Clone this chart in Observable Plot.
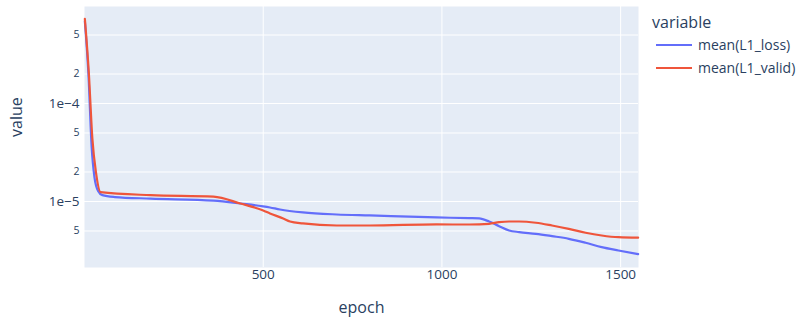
<!DOCTYPE html>
<html>
<head>
<meta charset="utf-8">
<script src="https://cdn.jsdelivr.net/npm/d3@7"></script>
<script src="https://cdn.jsdelivr.net/npm/@observablehq/plot@0.6"></script>
<style>
  html, body { margin: 0; padding: 0; background: #fff; }
  #wrap { position: relative; width: 800px; height: 326px; font-family: "Open Sans", sans-serif; color: #2a3f5f; }
  #legend { position: absolute; left: 652px; top: 11px; }
  #legend .title { font-size: 16px; line-height: 22px; margin-bottom: 0px; }
  #legend .item { display: flex; align-items: center; height: 23px; font-size: 14px; }
  #legend .swatch { width: 36px; height: 2px; margin-left: 4px; margin-right: 6px; }
</style>
</head>
<body>
<div id="wrap"></div>
<script>
// ---- data ----
const seriesNames = ["mean(L1_loss)", "mean(L1_valid)"];
const seriesColors = ["#636efa", "#EF553B"];
const legendTitle = "variable";

const epochsLoss = [1, 11, 20, 28, 38, 50, 85, 185, 361, 436, 519, 547, 611, 706, 798, 985, 1077, 1104, 1132, 1160, 1188, 1216, 1263, 1308, 1355, 1402, 1447, 1494, 1549];
const lossValues = [6.9e-4, 2.0e-4, 3.6e-5, 1.75e-5, 1.28e-5, 1.16e-5, 1.11e-5, 1.07e-5, 1.02e-5, 9.54e-6, 8.69e-6, 8.28e-6, 7.73e-6, 7.37e-6, 7.20e-6, 6.87e-6, 6.76e-6, 6.71e-6, 6.25e-6, 5.60e-6, 5.06e-6, 4.87e-6, 4.68e-6, 4.43e-6, 4.16e-6, 3.79e-6, 3.42e-6, 3.16e-6, 2.90e-6];

const epochsValid = [1, 12, 22, 32, 45, 185, 361, 436, 500, 519, 556, 575, 611, 706, 798, 985, 1077, 1132, 1160, 1188, 1216, 1263, 1308, 1355, 1402, 1447, 1494, 1549];
const validValues = [7.31e-4, 2.08e-4, 4.39e-5, 1.99e-5, 1.245e-5, 1.16e-5, 1.12e-5, 9.54e-6, 8.09e-6, 7.55e-6, 6.71e-6, 6.25e-6, 5.97e-6, 5.69e-6, 5.69e-6, 5.83e-6, 5.82e-6, 5.92e-6, 6.15e-6, 6.25e-6, 6.25e-6, 6.07e-6, 5.69e-6, 5.26e-6, 4.80e-6, 4.50e-6, 4.32e-6, 4.27e-6];

const xTicks = [500, 1000, 1500];
const yMajorTicks = [1e-5, 1e-4];
const yMajorLabels = ["1e−5", "1e−4"];
const yMinorTicks = [5e-6, 2e-5, 5e-5, 2e-4, 5e-4];
const yMinorLabels = ["5", "2", "5", "2", "5"];
const xTitle = "epoch";
const yTitle = "value";

// ---- build table ----
const rows = [];
epochsLoss.forEach((e, i) => rows.push({epoch: e, value: lossValues[i], variable: seriesNames[0]}));
epochsValid.forEach((e, i) => rows.push({epoch: e, value: validValues[i], variable: seriesNames[1]}));

const majorRows = yMajorTicks.map((v, i) => ({v, label: yMajorLabels[i]}));
const minorRows = yMinorTicks.map((v, i) => ({v, label: yMinorLabels[i]}));

const chart = Plot.plot({
  width: 800,
  height: 326,
  marginLeft: 84,
  marginRight: 162,
  marginTop: 6,
  marginBottom: 59,
  style: { fontFamily: "Open Sans, sans-serif", color: "#2a3f5f", background: "transparent", overflow: "visible" },
  x: { domain: [0, 1550], axis: null },
  y: { type: "log", domain: [2.12e-6, 9.77e-4], axis: null },
  color: { domain: seriesNames, range: seriesColors },
  marks: [
    Plot.frame({ fill: "#E5ECF6", stroke: "none" }),
    Plot.gridX(xTicks, { stroke: "white", strokeOpacity: 1, strokeWidth: 1 }),
    Plot.gridY([...yMajorTicks, ...yMinorTicks], { stroke: "white", strokeOpacity: 1, strokeWidth: 1 }),
    Plot.text(xTicks, { x: d => d, text: d => String(d), frameAnchor: "bottom", dy: 11, fontSize: 13.5, fill: "#2a3f5f" }),
    Plot.text(majorRows, { y: "v", text: "label", frameAnchor: "left", dx: -5, textAnchor: "end", fontSize: 13.5, fill: "#2a3f5f" }),
    Plot.text(minorRows, { y: "v", text: "label", frameAnchor: "left", dx: -5, textAnchor: "end", fontSize: 10.5, fill: "#2a3f5f" }),
    Plot.line(rows, { x: "epoch", y: "value", stroke: "variable", z: "variable", strokeWidth: 2.2, curve: "monotone-x" }),
    Plot.text([xTitle], { frameAnchor: "bottom", dy: 45, fontSize: 16, fill: "#2a3f5f", text: d => d }),
    Plot.text([yTitle], { frameAnchor: "left", dx: -68, rotate: -90, fontSize: 16, fill: "#2a3f5f", text: d => d })
  ]
});

const wrap = document.getElementById("wrap");
wrap.appendChild(chart);

// legend (HTML overlay in the right margin)
const leg = document.createElement("div");
leg.id = "legend";
const t = document.createElement("div");
t.className = "title";
t.textContent = legendTitle;
leg.appendChild(t);
seriesNames.forEach((name, i) => {
  const it = document.createElement("div");
  it.className = "item";
  const sw = document.createElement("span");
  sw.className = "swatch";
  sw.style.background = seriesColors[i];
  const lb = document.createElement("span");
  lb.textContent = name;
  it.appendChild(sw);
  it.appendChild(lb);
  leg.appendChild(it);
});
wrap.appendChild(leg);
</script>
</body>
</html>
